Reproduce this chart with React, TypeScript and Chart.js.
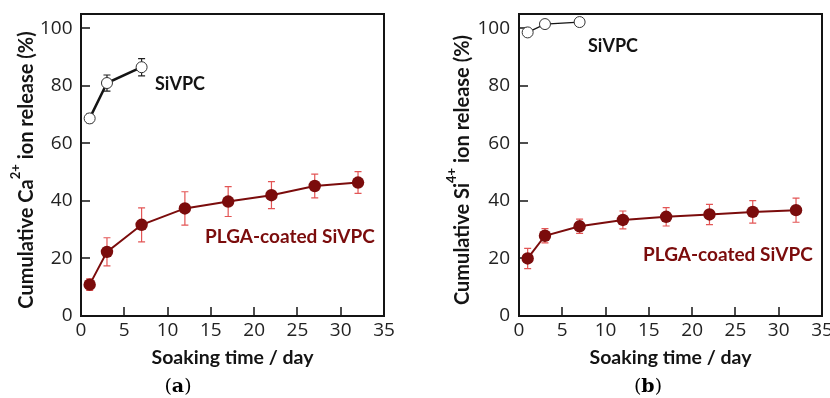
import React, { useEffect, useRef } from 'react';
import { Chart, registerables } from 'chart.js';
Chart.register(...registerables);

// ---------- data ----------
const plgaDays = [1, 3, 7, 12, 17, 22, 27, 32];
const sivpcDays = [1, 3, 7];
const caSivpc = [68.7, 81, 86.5];
const caSivpcErr = [1.5, 2.8, 3];
const caPlga = [10.9, 22.3, 31.7, 37.4, 39.8, 42, 45.2, 46.4];
const caPlgaErr = [2, 4.9, 5.9, 5.8, 5.2, 4.7, 4.1, 3.8];
const siSivpc = [98.6, 101.5, 102.2];
const siSivpcErr = [1, 0.8, 0.8];
const siPlga = [20, 27.9, 31.2, 33.4, 34.5, 35.3, 36.2, 36.8];
const siPlgaErr = [3.5, 2.5, 2.5, 3.1, 3.2, 3.5, 3.9, 4.2];
const xTicks = [0, 5, 10, 15, 20, 25, 30, 35];
const yTicks = [0, 20, 40, 60, 80, 100];
const xTitle = 'Soaking time / day';
const sivpcLabel = 'SiVPC';
const plgaLabel = 'PLGA-coated SiVPC';

const DARK_RED = '#7b0c0c';
const ERR_RED = '#e35555';
const INK = '#141414';

type Geom = {
  yAxisWidth: number;
  rightPad: number;
  yLabelPad: number;
  yTitleX: number;
  sivpcPos: [number, number];
  plgaPos: [number, number];
  letterX: number;
  sivpcLine: number;
};

type PanelProps = {
  ion: string;
  sup: string;
  sivpc: number[];
  sivpcErr: number[];
  plga: number[];
  plgaErr: number[];
  letter: string;
  geom: Geom;
};

function makeDecorations(p: PanelProps) {
  return {
    id: 'decorations',
    beforeDatasetsDraw(chart: any) {
      const ctx = chart.ctx as CanvasRenderingContext2D;
      const xs = chart.scales.x;
      const ys = chart.scales.y;
      const { left, bottom } = chart.chartArea;
      ctx.save();
      // inward tick marks taken from the library's scales
      ctx.strokeStyle = INK;
      ctx.lineWidth = 1.5;
      ctx.beginPath();
      xs.ticks.forEach((t: any) => {
        const px = Math.round(xs.getPixelForValue(t.value));
        ctx.moveTo(px, bottom);
        ctx.lineTo(px, bottom - 9);
      });
      ys.ticks.forEach((t: any) => {
        const py = Math.round(ys.getPixelForValue(t.value));
        ctx.moveTo(left, py);
        ctx.lineTo(left + 9, py);
      });
      ctx.stroke();
      // error bars
      chart.data.datasets.forEach((ds: any) => {
        const errs: number[] = ds.errors;
        ctx.strokeStyle = ds.errColor;
        ctx.lineWidth = 1.2;
        ds.data.forEach((pt: any, i: number) => {
          const e = errs[i];
          if (!e) return;
          const px = xs.getPixelForValue(pt.x);
          const y1 = ys.getPixelForValue(pt.y + e);
          const y2 = ys.getPixelForValue(pt.y - e);
          ctx.beginPath();
          ctx.moveTo(px, y1);
          ctx.lineTo(px, y2);
          ctx.moveTo(px - 3.5, y1);
          ctx.lineTo(px + 3.5, y1);
          ctx.moveTo(px - 3.5, y2);
          ctx.lineTo(px + 3.5, y2);
          ctx.stroke();
        });
      });
      ctx.restore();
    },
    afterDraw(chart: any) {
      const ctx = chart.ctx as CanvasRenderingContext2D;
      const { top, bottom } = chart.chartArea;
      const g = p.geom;
      ctx.save();
      // y title with superscript
      const mainF = 'bold 20px Lato';
      const supF = 'bold 13px Lato';
      const pre = 'Cumulative ' + p.ion;
      const post = ' ion release (%)';
      ctx.font = mainF;
      const w1 = ctx.measureText(pre).width;
      const w3 = ctx.measureText(post).width;
      ctx.font = supF;
      const w2 = ctx.measureText(p.sup).width;
      const total = w1 + w2 + w3;
      ctx.translate(g.yTitleX, (top + bottom) / 2 + 5);
      ctx.rotate(-Math.PI / 2);
      ctx.fillStyle = INK;
      ctx.textAlign = 'left';
      ctx.textBaseline = 'alphabetic';
      let x = -total / 2;
      ctx.font = mainF;
      ctx.fillText(pre, x, 0);
      x += w1;
      ctx.font = supF;
      ctx.fillText(p.sup, x, -13);
      x += w2;
      ctx.font = mainF;
      ctx.fillText(post, x, 0);
      ctx.restore();

      ctx.save();
      ctx.textAlign = 'left';
      ctx.textBaseline = 'alphabetic';
      ctx.font = 'bold 18px Lato';
      ctx.fillStyle = INK;
      ctx.fillText(sivpcLabel, g.sivpcPos[0], g.sivpcPos[1]);
      ctx.font = 'bold 19px Lato';
      ctx.fillStyle = DARK_RED;
      ctx.fillText(plgaLabel, g.plgaPos[0], g.plgaPos[1]);

      // panel letter
      const reg = '19px "DejaVu Serif"';
      const bld = 'bold 19px "DejaVu Serif"';
      ctx.fillStyle = '#000';
      ctx.font = reg;
      const lp = ctx.measureText('(').width;
      const rp = ctx.measureText(')').width;
      ctx.font = bld;
      const lw = ctx.measureText(p.letter).width;
      let lx = g.letterX - (lp + lw + rp) / 2;
      const by = 392;
      ctx.font = reg;
      ctx.fillText('(', lx, by);
      lx += lp;
      ctx.font = bld;
      ctx.fillText(p.letter, lx, by);
      lx += lw;
      ctx.font = reg;
      ctx.fillText(')', lx, by);
      ctx.restore();
    },
  };
}

function Panel(p: PanelProps) {
  const ref = useRef<HTMLCanvasElement>(null);
  useEffect(() => {
    const g = p.geom;
    const tickFont = { family: 'Open Sans', size: 19 };
    const noPad = (s: any) => {
      s.paddingTop = 0;
      s.paddingBottom = 0;
      s.paddingLeft = 0;
      s.paddingRight = 0;
    };
    const frameAxis = (pos: string, horizontal: boolean) => ({
      type: 'linear',
      position: pos,
      min: 0,
      max: horizontal ? 35 : 105,
      display: true,
      ticks: { display: false },
      grid: { display: false, drawTicks: false },
      border: { display: true, color: INK, width: 2 },
      afterFit: (s: any) => {
        if (horizontal) s.height = 0;
        else s.width = 0;
        noPad(s);
      },
    });
    const chart = new Chart(ref.current as HTMLCanvasElement, {
      type: 'line',
      data: {
        datasets: [
          {
            label: sivpcLabel,
            data: sivpcDays.map((d, i) => ({ x: d, y: p.sivpc[i] })),
            borderColor: INK,
            borderWidth: g.sivpcLine,
            pointRadius: 5.5,
            pointBackgroundColor: '#fff',
            pointBorderColor: '#333',
            pointBorderWidth: 1,
            errors: p.sivpcErr,
            errColor: '#222',
          } as any,
          {
            label: plgaLabel,
            data: plgaDays.map((d, i) => ({ x: d, y: p.plga[i] })),
            borderColor: DARK_RED,
            borderWidth: 2,
            pointRadius: 6.2,
            pointBackgroundColor: DARK_RED,
            pointBorderColor: DARK_RED,
            pointBorderWidth: 0,
            errors: p.plgaErr,
            errColor: ERR_RED,
          } as any,
        ],
      },
      options: {
        responsive: false,
        animation: false,
        devicePixelRatio: 1,
        layout: { padding: { left: 0, top: 14, right: g.rightPad, bottom: 0 } },
        plugins: {
          legend: { display: false },
          tooltip: { enabled: false },
        },
        scales: {
          x: {
            type: 'linear',
            position: 'bottom',
            min: 0,
            max: 35,
            afterBuildTicks: (s: any) => {
              s.ticks = xTicks.map((v) => ({ value: v }));
            },
            afterFit: (s: any) => {
              s.height = 82;
              noPad(s);
            },
            ticks: { font: tickFont, color: '#222', padding: 3, maxRotation: 0, autoSkip: false },
            grid: { drawOnChartArea: false, drawTicks: false, color: INK },
            border: { display: true, color: INK, width: 2 },
            title: {
              display: true,
              text: xTitle,
              font: { family: 'Lato', size: 19.5, weight: 'bold' },
              color: INK,
              padding: { top: 0, bottom: 29 },
            },
          },
          y: {
            type: 'linear',
            position: 'left',
            min: 0,
            max: 105,
            afterBuildTicks: (s: any) => {
              s.ticks = yTicks.map((v) => ({ value: v }));
            },
            afterFit: (s: any) => {
              s.width = g.yAxisWidth;
              noPad(s);
            },
            ticks: { font: tickFont, color: '#222', padding: g.yLabelPad, autoSkip: false },
            grid: { drawOnChartArea: false, drawTicks: false, color: INK },
            border: { display: true, color: INK, width: 2 },
          },
          xTop: frameAxis('top', true),
          yRight: frameAxis('right', false),
        },
      } as any,
      plugins: [makeDecorations(p) as any],
    });
    return () => chart.destroy();
  }, []);
  return (
    <canvas
      ref={ref}
      width={415}
      height={398}
      style={{ display: 'block', width: 415, height: 398 }}
    />
  );
}

export default function App() {
  return (
    <div
      style={{
        position: 'fixed',
        left: 0,
        top: 0,
        width: 830,
        height: 398,
        background: '#fff',
        display: 'flex',
      }}
    >
      <Panel
        ion="Ca"
        sup="2+"
        sivpc={caSivpc}
        sivpcErr={caSivpcErr}
        plga={caPlga}
        plgaErr={caPlgaErr}
        letter="a"
        geom={{
          yAxisWidth: 81,
          rightPad: 31,
          yLabelPad: 8.5,
          yTitleX: 32.5,
          sivpcPos: [155, 90],
          plgaPos: [205, 243],
          letterX: 178,
          sivpcLine: 2.5,
        }}
      />
      <Panel
        ion="Si"
        sup="4+"
        sivpc={siSivpc}
        sivpcErr={siSivpcErr}
        plga={siPlga}
        plgaErr={siPlgaErr}
        letter="b"
        geom={{
          yAxisWidth: 104,
          rightPad: 8,
          yLabelPad: 9,
          yTitleX: 54,
          sivpcPos: [173, 52],
          plgaPos: [228, 261],
          letterX: 233,
          sivpcLine: 1.3,
        }}
      />
    </div>
  );
}
